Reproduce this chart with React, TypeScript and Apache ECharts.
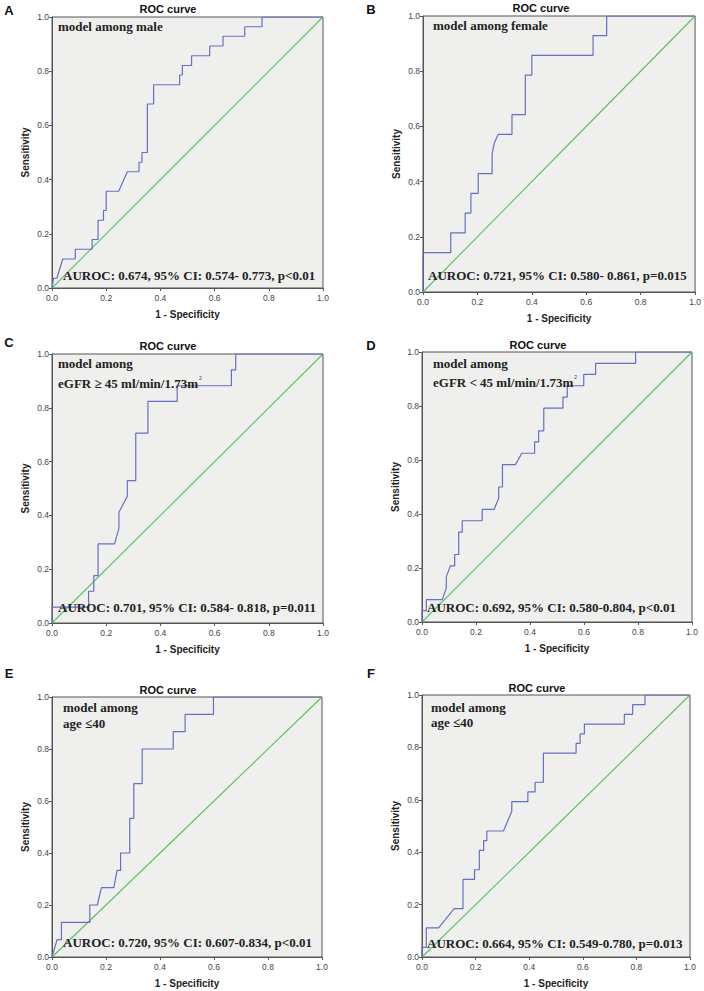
import React, { useEffect, useRef } from "react";
import * as echarts from "echarts";

// ROC curve points [1 - specificity, sensitivity]
const rocMale: number[][] = [
  [0, 0], [0.006, 0.036], [0.018, 0.036], [0.04, 0.107], [0.086, 0.107], [0.086, 0.143],
  [0.148, 0.143], [0.148, 0.179], [0.17, 0.179], [0.17, 0.25], [0.19, 0.25], [0.19, 0.286],
  [0.2, 0.286], [0.2, 0.357], [0.246, 0.357], [0.278, 0.429], [0.321, 0.429], [0.321, 0.464],
  [0.332, 0.464], [0.332, 0.5], [0.352, 0.5], [0.352, 0.679], [0.375, 0.679], [0.375, 0.75],
  [0.471, 0.75], [0.471, 0.786], [0.481, 0.786], [0.481, 0.821], [0.515, 0.821], [0.515, 0.857],
  [0.582, 0.857], [0.582, 0.893], [0.631, 0.893], [0.631, 0.929], [0.711, 0.929], [0.711, 0.964],
  [0.775, 0.964], [0.775, 1], [1, 1],
];
const rocFemale: number[][] = [
  [0, 0], [0, 0.143], [0.102, 0.143], [0.102, 0.214], [0.155, 0.214], [0.155, 0.286],
  [0.176, 0.286], [0.176, 0.357], [0.203, 0.357], [0.203, 0.429], [0.254, 0.429], [0.254, 0.5],
  [0.262, 0.54], [0.276, 0.571], [0.327, 0.571], [0.327, 0.643], [0.376, 0.643], [0.376, 0.786],
  [0.4, 0.786], [0.4, 0.857], [0.625, 0.857], [0.625, 0.929], [0.675, 0.929], [0.675, 1], [1, 1],
];
const rocEgfrHigh: number[][] = [
  [0, 0], [0, 0.059], [0.135, 0.059], [0.135, 0.118], [0.154, 0.118], [0.154, 0.176],
  [0.17, 0.176], [0.17, 0.294], [0.231, 0.294], [0.247, 0.353], [0.247, 0.412], [0.278, 0.471],
  [0.278, 0.529], [0.309, 0.529], [0.309, 0.706], [0.354, 0.706], [0.354, 0.824], [0.462, 0.824],
  [0.462, 0.882], [0.662, 0.882], [0.662, 0.941], [0.678, 0.941], [0.678, 1], [1, 1],
];
const rocEgfrLow: number[][] = [
  [0, 0], [0, 0.042], [0.016, 0.042], [0.016, 0.083], [0.075, 0.083], [0.09, 0.125],
  [0.09, 0.167], [0.105, 0.208], [0.121, 0.208], [0.121, 0.25], [0.136, 0.25], [0.136, 0.333],
  [0.149, 0.333], [0.149, 0.375], [0.223, 0.375], [0.223, 0.417], [0.267, 0.417], [0.284, 0.458],
  [0.284, 0.5], [0.298, 0.5], [0.298, 0.583], [0.346, 0.583], [0.37, 0.625], [0.417, 0.625],
  [0.417, 0.667], [0.432, 0.667], [0.432, 0.708], [0.451, 0.708], [0.451, 0.792], [0.522, 0.792],
  [0.522, 0.833], [0.538, 0.833], [0.538, 0.875], [0.599, 0.875], [0.599, 0.917], [0.643, 0.917],
  [0.643, 0.958], [0.791, 0.958], [0.791, 1], [1, 1],
];
const rocAgeE: number[][] = [
  [0, 0], [0.019, 0.067], [0.035, 0.067], [0.035, 0.133], [0.14, 0.133], [0.14, 0.2],
  [0.168, 0.2], [0.183, 0.267], [0.229, 0.267], [0.241, 0.333], [0.254, 0.333], [0.254, 0.4],
  [0.288, 0.4], [0.288, 0.533], [0.303, 0.533], [0.303, 0.667], [0.334, 0.667], [0.334, 0.8],
  [0.449, 0.8], [0.449, 0.867], [0.493, 0.867], [0.493, 0.933], [0.598, 0.933], [0.598, 1], [1, 1],
];
const rocAgeF: number[][] = [
  [0, 0], [0, 0.037], [0.016, 0.037], [0.016, 0.111], [0.062, 0.111], [0.12, 0.185],
  [0.153, 0.185], [0.153, 0.296], [0.196, 0.296], [0.196, 0.333], [0.214, 0.333], [0.214, 0.407],
  [0.23, 0.407], [0.23, 0.444], [0.242, 0.444], [0.242, 0.481], [0.304, 0.481], [0.335, 0.556],
  [0.335, 0.593], [0.395, 0.593], [0.395, 0.63], [0.422, 0.63], [0.422, 0.667], [0.453, 0.667],
  [0.453, 0.778], [0.575, 0.778], [0.575, 0.815], [0.59, 0.815], [0.59, 0.852], [0.606, 0.852],
  [0.606, 0.889], [0.755, 0.889], [0.755, 0.926], [0.786, 0.926], [0.786, 0.963], [0.832, 0.963],
  [0.832, 1], [1, 1],
];
const reference: number[][] = [[0, 0], [0.5, 0.5], [1, 1]];

const panelLetters = ["A", "B", "C", "D", "E", "F"];
const chartTitle = "ROC curve";
const xAxisName = "1 - Specificity";
const yAxisName = "Sensitivity";
const subgroupLine1 = ["model among male", "model among female", "model among", "model among", "model among", "model among"];
const subgroupLine2 = ["", "", "eGFR ≥ 45 ml/min/1.73m", "eGFR < 45 ml/min/1.73m", "age ≤40", "age ≤40"];
const subgroupSup = ["", "", "2", "2", "", ""];
const aurocTexts = [
  "AUROC: 0.674, 95% CI: 0.574- 0.773, p<0.01",
  "AUROC: 0.721, 95% CI: 0.580- 0.861, p=0.015",
  "AUROC: 0.701, 95% CI: 0.584- 0.818, p=0.011",
  "AUROC: 0.692, 95% CI: 0.580-0.804, p<0.01",
  "AUROC: 0.720, 95% CI: 0.607-0.834, p<0.01",
  "AUROC: 0.664, 95% CI: 0.549-0.780, p=0.013",
];
const rocCurves = [rocMale, rocFemale, rocEgfrHigh, rocEgfrLow, rocAgeE, rocAgeF];

// layout (pixels)
const grids = [
  { left: 52, top: 17, width: 271, height: 271 },
  { left: 423, top: 16, width: 274, height: 276 },
  { left: 52, top: 354, width: 271, height: 269 },
  { left: 422, top: 352, width: 270, height: 270 },
  { left: 52, top: 697, width: 270, height: 260 },
  { left: 422, top: 695, width: 268, height: 262 },
];
const letterPos = [[9, 10], [371, 9], [9, 342], [371, 345], [9, 673], [371, 673]];
const titlePos = [[168, 9], [541, 8], [168, 346], [538, 345], [168, 690], [537, 688]];
const line1Pos = [[58, 26], [433, 25], [58, 363], [433, 363], [63, 707], [431, 707]];
const line2Y = [0, 0, 383, 382, 723, 722];
const aurocPos = [[63, 275], [428, 275], [58, 607], [427, 607], [63, 942], [427, 943]];

const BLUE = "#6670c2";
const GREEN = "#5cc062";
const SERIF = '"Liberation Serif", "Times New Roman", serif';
const SANS = '"Liberation Sans", Arial, sans-serif';

export default function App() {
  const ref = useRef<HTMLDivElement>(null);
  useEffect(() => {
    if (!ref.current) return;
    const chart = echarts.init(ref.current, null, { renderer: "svg" });
    const gridOpts = grids.map((g) => ({
      ...g,
      show: true,
      backgroundColor: "#efefee",
      borderColor: "#555",
      borderWidth: 1,
      containLabel: false,
    }));
    const axisCommon = {
      type: "value" as const,
      min: 0,
      max: 1,
      interval: 0.2,
      splitLine: { show: false },
      axisLine: { show: true, lineStyle: { color: "#555", width: 1 } },
      axisTick: { show: true, length: 3, lineStyle: { color: "#555" } },
      axisLabel: {
        fontSize: 8.5,
        fontFamily: SANS,
        color: "#444",
        formatter: (v: number) => v.toFixed(1),
      },
      nameLocation: "middle" as const,
      nameTextStyle: { fontFamily: SANS, fontWeight: "bold" as const, fontSize: 10, color: "#222" },
    };
    const xAxes = grids.map((_, i) => ({
      ...axisCommon,
      gridIndex: i,
      name: xAxisName,
      nameGap: 21,
      axisLabel: { ...axisCommon.axisLabel, margin: 5 },
    }));
    const yAxes = grids.map((_, i) => ({
      ...axisCommon,
      gridIndex: i,
      name: yAxisName,
      nameGap: 22,
      axisLabel: { ...axisCommon.axisLabel, margin: 3 },
    }));
    const series: any[] = [];
    rocCurves.forEach((curve, i) => {
      series.push({
        type: "line",
        xAxisIndex: i,
        yAxisIndex: i,
        data: reference,
        color: GREEN,
        showSymbol: false,
        symbol: "none",
        lineStyle: { color: GREEN, width: 1.1, opacity: 1 },
        itemStyle: { color: GREEN },
        z: 2,
      });
      series.push({
        type: "line",
        xAxisIndex: i,
        yAxisIndex: i,
        data: curve,
        color: BLUE,
        showSymbol: false,
        symbol: "none",
        lineStyle: { color: BLUE, width: 1.2 },
        itemStyle: { color: BLUE },
        z: 3,
      });
    });
    const graphics: any[] = [];
    panelLetters.forEach((letter, i) => {
      graphics.push({
        type: "text",
        x: letterPos[i][0],
        y: letterPos[i][1],
        style: {
          text: letter,
          font: `bold 13px ${SANS}`,
          fill: "#111",
          align: "center",
          verticalAlign: "middle",
        },
      });
      graphics.push({
        type: "text",
        x: titlePos[i][0],
        y: titlePos[i][1],
        style: {
          text: chartTitle,
          font: `bold 11px ${SANS}`,
          fill: "#111",
          align: "center",
          verticalAlign: "middle",
        },
      });
      graphics.push({
        type: "text",
        x: line1Pos[i][0],
        y: line1Pos[i][1],
        z: 10,
        style: {
          text: subgroupLine1[i],
          font: `bold 13px ${SERIF}`,
          fill: "#222",
          align: "left",
          verticalAlign: "middle",
        },
      });
      if (subgroupLine2[i]) {
        graphics.push({
          type: "text",
          x: line1Pos[i][0],
          y: line2Y[i],
          z: 10,
          style: {
            text: subgroupSup[i]
              ? `{a|${subgroupLine2[i]}}{s|${subgroupSup[i]}}`
              : `{a|${subgroupLine2[i]}}`,
            align: "left",
            verticalAlign: "middle",
            rich: {
              a: { font: `bold 13px ${SERIF}`, fill: "#222", lineHeight: 15 },
              s: { font: `5px ${SANS}`, fill: "#444", verticalAlign: "top", lineHeight: 12, padding: [0, 0, 0, 1] },
            },
          },
        });
      }
      graphics.push({
        type: "text",
        x: aurocPos[i][0],
        y: aurocPos[i][1],
        z: 10,
        style: {
          text: aurocTexts[i],
          font: `bold 13px ${SERIF}`,
          fill: "#222",
          align: "left",
          verticalAlign: "middle",
        },
      });
    });
    chart.setOption({
      animation: false,
      backgroundColor: "#ffffff",
      grid: gridOpts,
      xAxis: xAxes,
      yAxis: yAxes,
      series,
      graphic: graphics,
    });
    return () => chart.dispose();
  }, []);
  return (
    <div
      ref={ref}
      style={{ position: "fixed", left: 0, top: 0, width: 704, height: 991 }}
    />
  );
}
